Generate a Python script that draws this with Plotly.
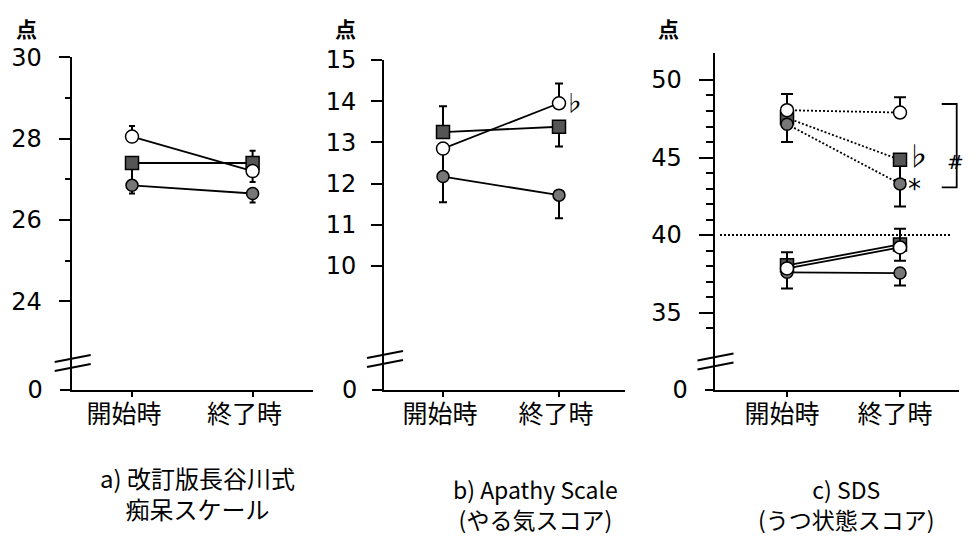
import plotly.graph_objects as go

# the page body adds an 8 px margin, so the figure is 8 px smaller and all
# reference pixel positions are shifted by that offset
OFF = 8
W, H = 976 - OFF, 537 - OFF
FONT = "Noto Sans CJK JP"
NUMFONT = "DejaVu Sans"

categories = ["開始時", "終了時"]

# a) 改訂版長谷川式痴呆スケール
a_open = [28.05, 27.2]
a_open_plus = [0.26, 0.0]
a_open_minus = [0.0, 0.27]
a_square = [27.4, 27.4]
a_square_plus = [0.0, 0.3]
a_square_minus = [0.42, 0.0]
a_filled = [26.85, 26.65]
a_filled_plus = [0.0, 0.0]
a_filled_minus = [0.2, 0.22]
a_ticks = [24, 26, 28, 30]
a_minor = [25, 27, 29]

# b) Apathy Scale
b_open = [12.85, 13.95]
b_open_plus = [0.0, 0.48]
b_open_minus = [0.6, 0.0]
b_square = [13.25, 13.38]
b_square_plus = [0.63, 0.0]
b_square_minus = [0.0, 0.48]
b_filled = [12.17, 11.72]
b_filled_plus = [0.0, 0.0]
b_filled_minus = [0.62, 0.56]
b_ticks = [10, 11, 12, 13, 14, 15]

# c) SDS  (upper group: dotted, lower group: solid)
c_open_hi = [48.05, 47.9]
c_open_hi_plus = [1.05, 0.98]
c_open_hi_minus = [0.0, 0.0]
c_square_hi = [47.55, 44.85]
c_square_hi_plus = [0.0, 0.0]
c_square_hi_minus = [0.0, 1.3]
c_filled_hi = [47.15, 43.3]
c_filled_hi_plus = [0.0, 0.0]
c_filled_hi_minus = [1.15, 1.45]

c_open_lo = [37.85, 39.2]
c_open_lo_plus = [1.05, 1.2]
c_open_lo_minus = [0.0, 0.85]
c_square_lo = [38.05, 39.4]
c_square_lo_plus = [0.0, 0.0]
c_square_lo_minus = [0.0, 0.0]
c_filled_lo = [37.6, 37.55]
c_filled_lo_plus = [0.0, 0.0]
c_filled_lo_minus = [1.05, 0.8]
c_ticks = [35, 40, 45, 50]
c_minor = [34, 36, 37, 38, 39, 41, 42, 43, 44, 46, 47, 48, 49]
c_cutoff = 40
c_bracket = [48.45, 43.08]

zero_tick = [0]
y_unit = "点"
titles = [
    ("a) 改訂版長谷川式", "痴呆スケール"),
    ("b) Apathy Scale", "(やる気スコア)"),
    ("c) SDS", "(うつ状態スコア)"),
]


def px(x):
    return (x - OFF) / W


def py(y):
    return (H - (y - OFF)) / H


fig = go.Figure()

SQ_FILL = "#555555"
CI_FILL = "#777777"


def add_series(xa, ya, y, plus, minus, symbol, fill, size, dash="solid", cap=4):
    fig.add_trace(go.Scatter(
        x=categories, y=y, xaxis=xa, yaxis=ya, mode="lines+markers",
        line=dict(color="black", width=1.8, dash=dash),
        marker=dict(symbol=symbol, size=size, color=fill,
                    line=dict(color="black", width=1.5)),
        error_y=dict(type="data", symmetric=False, array=plus, arrayminus=minus,
                     color="black", thickness=2, width=cap),
        showlegend=False, hoverinfo="skip"))


# panel a
add_series("x", "y", a_square, a_square_plus, a_square_minus, "square", SQ_FILL, 13, cap=3)
add_series("x", "y", a_filled, a_filled_plus, a_filled_minus, "circle", CI_FILL, 12, cap=3)
add_series("x", "y", a_open, a_open_plus, a_open_minus, "circle", "white", 13, cap=3)
# panel b
add_series("x2", "y2", b_square, b_square_plus, b_square_minus, "square", SQ_FILL, 13, cap=4)
add_series("x2", "y2", b_open, b_open_plus, b_open_minus, "circle", "white", 13, cap=4)
add_series("x2", "y2", b_filled, b_filled_plus, b_filled_minus, "circle", CI_FILL, 12, cap=4)
# panel c
DOT = "2px,2px"
add_series("x3", "y3", c_square_hi, c_square_hi_plus, c_square_hi_minus, "square", SQ_FILL, 13, DOT, cap=6)
add_series("x3", "y3", c_filled_hi, c_filled_hi_plus, c_filled_hi_minus, "circle", CI_FILL, 12, DOT, cap=6)
add_series("x3", "y3", c_open_hi, c_open_hi_plus, c_open_hi_minus, "circle", "white", 13, DOT, cap=6)
add_series("x3", "y3", c_filled_lo, c_filled_lo_plus, c_filled_lo_minus, "circle", CI_FILL, 12, cap=6)
add_series("x3", "y3", c_square_lo, c_square_lo_plus, c_square_lo_minus, "square", SQ_FILL, 13, cap=6)
add_series("x3", "y3", c_open_lo, c_open_lo_plus, c_open_lo_minus, "circle", "white", 13, cap=6)

# dummy traces so that the lower (zero) axes exist as subplots
for xa, ya in (("x", "y4"), ("x2", "y5"), ("x3", "y6")):
    fig.add_trace(go.Scatter(x=[], y=[], xaxis=xa, yaxis=ya, showlegend=False))

AX = dict(showline=True, linecolor="black", linewidth=2, ticks="outside",
          tickcolor="black", tickwidth=2, showgrid=False, zeroline=False,
          fixedrange=True, automargin=False)
numfont = dict(family=NUMFONT, size=24, color="black")
catfont = dict(family=FONT, size=25, color="black")

# geometry (reference pixels)
bottom = 390
panels = [
    dict(x0=71.7, x1=313, top=57.3, vtop=30, ppu=40.65, brk=363, p0=132, p1=252.6,
         tl=11, shift=-8, ticks=a_ticks, minor=a_minor, mtl=5, zl=10, so=12),
    dict(x0=384, x1=625, top=60, vtop=15, ppu=41.2, brk=360, p0=443, p1=559,
         tl=11, shift=-3, ticks=b_ticks, minor=None, mtl=0, zl=10, so=10),
    dict(x0=714.5, x1=959, top=53.3, vtop=51.72, ppu=15.51, brk=362, p0=787, p1=900,
         tl=14, shift=-5, ticks=c_ticks, minor=c_minor, mtl=7, zl=8, so=12),
]

layout = dict(width=W, height=H, margin=dict(l=0, r=0, t=0, b=0, autoexpand=False),
              paper_bgcolor="white", plot_bgcolor="rgba(0,0,0,0)", showlegend=False,
              template="none")

for i, p in enumerate(panels):
    n = i + 1
    xs = "" if n == 1 else str(n)
    dom_w = p["x1"] - p["x0"]
    u = (p["p1"] - p["p0"]) / dom_w
    r0 = -((p["p0"] - p["x0"]) / dom_w) / u
    r1 = r0 + 1 / u
    vmin = p["vtop"] - (p["brk"] - p["top"]) / p["ppu"]
    layout["xaxis" + xs] = dict(AX, domain=[px(p["x0"]), px(p["x1"])], range=[r0, r1],
                                type="category", categoryorder="array",
                                categoryarray=categories, anchor="y" + str(n + 3),
                                ticklen=5, ticklabelshift=p["shift"], ticklabelstandoff=-4,
                                tickfont=catfont)
    yax = dict(AX, domain=[py(p["brk"]), py(p["top"])], range=[vmin, p["vtop"]],
               anchor="x" + xs, tickvals=p["ticks"], ticklen=p["tl"],
               ticklabelstandoff=p["so"], tickfont=numfont)
    if p["minor"]:
        yax["minor"] = dict(tickvals=p["minor"], ticklen=p["mtl"], tickwidth=2,
                            tickcolor="black", ticks="outside")
    layout["yaxis" + xs] = yax
    layout["yaxis" + str(n + 3)] = dict(AX, domain=[py(bottom), py(p["brk"])],
                                        range=[0, (bottom - p["brk"]) / p["ppu"]],
                                        anchor="x" + xs, tickvals=zero_tick,
                                        ticktext=[str(v) for v in zero_tick],
                                        ticklen=p["zl"], ticklabelstandoff=p["so"],
                                        tickfont=numfont)

fig.update_layout(**layout)

shapes = []
# axis break marks
for (ax_x, yc) in ((71.7, 363), (384, 359), (714.5, 361.5)):
    for off in (-4.5, 4.5):
        shapes.append(dict(type="line", xref="paper", yref="paper",
                           x0=px(ax_x - 17), y0=py(yc + off + 3.5),
                           x1=px(ax_x + 19), y1=py(yc + off - 3.5),
                           line=dict(color="black", width=2)))
# cut-off dotted line at 40 (panel c)
shapes.append(dict(type="line", xref="paper", yref="y3", x0=px(720), x1=px(950),
                   y0=c_cutoff, y1=c_cutoff, line=dict(color="black", width=2, dash=DOT)))
# bracket
bx0, bx1 = px(941.7), px(956.7)
shapes.append(dict(type="path", xref="paper", yref="y3",
                   path=f"M {bx0} {c_bracket[0]} L {bx1} {c_bracket[0]} L {bx1} {c_bracket[1]} L {bx0} {c_bracket[1]}",
                   line=dict(color="black", width=1.8)))
fig.update_layout(shapes=shapes)

ann = []
# unit labels
for xpx in (26, 345, 668):
    ann.append(dict(text=y_unit, x=px(xpx), y=py(28), xref="paper", yref="paper",
                    showarrow=False, font=dict(family=FONT, size=21, color="black", weight="bold"),
                    xanchor="center", yanchor="middle"))
# bottom titles (two lines each)
title_pos = [(197, 493), (535, 504), (846, 504)]
title_sizes = [24, 23, 23]
for (l1, l2), (tx, ty), s in zip(titles, title_pos, title_sizes):
    ann.append(dict(text=l1 + "<br>" + l2, x=px(tx), y=py(ty), xref="paper", yref="paper",
                    showarrow=False, align="center",
                    font=dict(family=FONT, size=s, color="black"),
                    xanchor="center", yanchor="middle"))
# significance marks
flat = dict(family=FONT, size=22, color="black")
ann.append(dict(text="♭", x=categories[1], y=b_open[1], xref="x2", yref="y2", showarrow=False,
                xshift=15, yshift=2, font=flat))
ann.append(dict(text="♭", x=categories[1], y=c_square_hi[1], xref="x3", yref="y3", showarrow=False,
                xshift=18, yshift=5, font=dict(flat, size=26)))
ann.append(dict(text="*", x=categories[1], y=c_filled_hi[1], xref="x3", yref="y3", showarrow=False,
                xshift=14, yshift=-5, font=dict(family="DejaVu Sans", size=26, color="black")))
ann.append(dict(text="#", x=px(966), y=py(148), xref="paper", yref="paper", showarrow=False,
                font=dict(family="DejaVu Sans", size=20, color="black")))
fig.update_layout(annotations=ann)

fig.write_html("out.html")
